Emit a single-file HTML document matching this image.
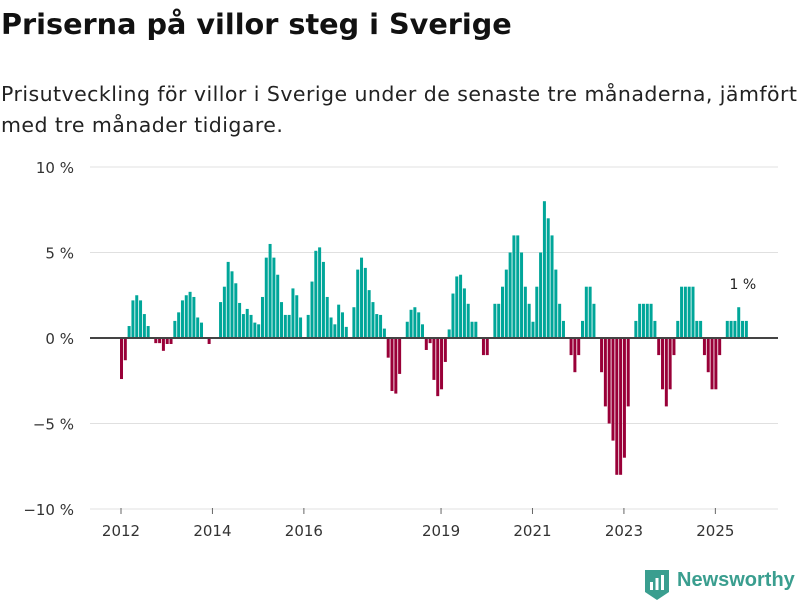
<!DOCTYPE html>
<html><head><meta charset="utf-8"><style>
body{margin:0;width:800px;height:600px;background:#fff;overflow:hidden;font-family:"DejaVu Sans",sans-serif;}
.t{position:absolute;left:1px;top:7px;font-size:28.7px;font-weight:bold;color:#111;font-family:"DejaVu Sans",sans-serif;}
.s{position:absolute;left:1px;top:79px;font-size:20.5px;line-height:31px;color:#222;width:810px;letter-spacing:0.45px;white-space:nowrap;font-family:"DejaVu Sans",sans-serif;}
</style></head><body>
<div class="t">Priserna på villor steg i Sverige</div>
<div class="s">Prisutveckling för villor i Sverige under de senaste tre månaderna, jämfört<br>med tre månader tidigare.</div>
<svg id="c" width="800" height="600" style="position:absolute;left:0;top:0"></svg>
<script>
const values = [
-2.4,-1.3,0.7,2.2,2.5,2.2,1.4,0.7,0,-0.3,-0.3,-0.75,
-0.35,-0.35,1.0,1.5,2.2,2.5,2.7,2.4,1.2,0.9,0,-0.35,
0,0,2.1,3.0,4.45,3.9,3.2,2.05,1.4,1.7,1.35,0.9,
0.8,2.4,4.7,5.5,4.7,3.7,2.1,1.35,1.35,2.9,2.5,1.2,
0,1.35,3.3,5.1,5.3,4.45,2.4,1.2,0.8,1.95,1.5,0.65,
0,1.8,4.0,4.7,4.1,2.8,2.1,1.4,1.35,0.55,-1.15,-3.1,
-3.25,-2.1,0,0.95,1.65,1.8,1.5,0.8,-0.7,-0.3,-2.45,-3.4,
-3.0,-1.4,0.5,2.6,3.6,3.7,2.9,2.0,0.95,0.95,0,-1.0,
-1.0,0,2.0,2.0,3.0,4.0,5.0,6.0,6.0,5.0,3.0,2.0,
0.95,3.0,5.0,8.0,7.0,6.0,4.0,2.0,1.0,0,-1.0,-2.0,
-1.0,1.0,3.0,3.0,2.0,0,-2.0,-4.0,-5.0,-6.0,-8.0,-8.0,
-7.0,-4.0,0,1.0,2,2,2,2,1,-1,-3,-4,
-3,-1,1,3,3,3,3,1,1,-1,-2,-3,
-3,-1,0,1,1,1,1.8,1,1];
const startYear = 2012;
const yTicks = [10,5,0,-5,-10];
const yTickLabels = ["10 %","5 %","0 %","−5 %","−10 %"];
const xTickYears = [2012,2014,2016,2019,2021,2023,2025];
const lastLabel = "1 %";
const NS='http://www.w3.org/2000/svg', svg=document.getElementById('c');
const FF='DejaVu Sans, sans-serif';
function x(i){return 120+i*3.81;}
function y(v){return 338-v*17.1;}
function mk(t,a){const e=document.createElementNS(NS,t);for(const k in a)e.setAttribute(k,a[k]);svg.appendChild(e);return e;}
yTicks.forEach((v,i)=>{
  if(v!==0){const g=mk('line',{x1:90,x2:778,y1:y(v),y2:y(v),stroke:'#e0e0e0','stroke-width':1});
  
  }
  const t=mk('text',{x:74,y:y(v)+6,'text-anchor':'end','font-size':15,fill:'#333','font-family':FF});
  t.textContent=yTickLabels[i];
  
  
});
values.forEach((v,i)=>{
  if(v===0)return;
  const r=mk('rect',{x:x(i),y:Math.min(y(v),y(0)),width:3,height:Math.abs(y(v)-y(0)),fill:v>0?'#00a699':'#990038'});
  
  
});
const base=mk('line',{x1:90,x2:778,y1:y(0),y2:y(0),stroke:'#444','stroke-width':2});


xTickYears.forEach(yr=>{
  const xi=x((yr-startYear)*12)+1;
  const tk=mk('line',{x1:xi,x2:xi,y1:508,y2:514,stroke:'#666','stroke-width':1});
  
  
  const t=mk('text',{x:xi,y:536,'text-anchor':'middle','font-size':15,fill:'#333','font-family':FF});
  t.textContent=yr;
  
  
});
const li=values.length-1;
const lt=mk('text',{x:x(li)-2,y:y(values[li])-32,'text-anchor':'middle','font-size':14,fill:'#222','font-family':FF});
lt.textContent=lastLabel;


</script>
<svg width="24" height="30" style="position:absolute;left:645px;top:570px">
<path d="M0 0H24V22L12 30L0 22Z" fill="#3a9e8f"/>
<rect x="5" y="12" width="3" height="8" fill="#fff"/><rect x="10.5" y="8" width="3" height="12" fill="#fff"/><rect x="16" y="5" width="3" height="15" fill="#fff"/>
</svg>
<div style="position:absolute;left:677px;top:569px;font-size:20px;font-weight:bold;color:#3a9e8f;font-family:'Liberation Sans',sans-serif">Newsworthy</div>
</body></html>
